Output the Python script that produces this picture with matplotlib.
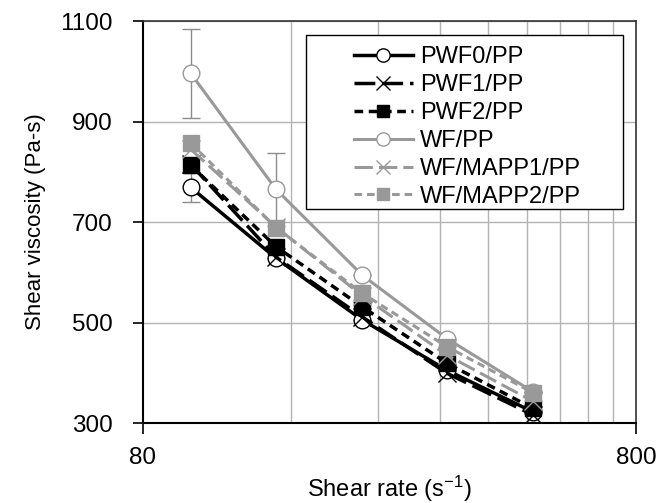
import matplotlib.pyplot as plt
from matplotlib.patches import Rectangle
from matplotlib.ticker import FixedLocator, NullFormatter

plt.rcParams.update({
    'font.family': 'Liberation Sans',
    'font.size': 16,
    'mathtext.default': 'regular',
})

# Data
shear_rate = [100, 149, 223, 331, 495]
pwf0 = [769, 628, 505, 405, 322]
pwf1 = [815, 630, 511, 399, 316]
pwf2 = [813, 651, 531, 419, 329]
wf = [996, 765, 594, 468, 362]
wf_mapp1 = [845, 690, 553, 435, 343]
wf_mapp2 = [857, 689, 558, 452, 360]

wf_err = [88, 73, 0, 0, 0]
pwf0_err = [29, 0, 0, 0, 0]

grid_x = [160, 240, 320, 400, 480, 560, 640, 720]

black = '#000000'
gray = '#999999'

fig = plt.figure(figsize=(6.68, 5.03), dpi=100)
ax = fig.add_axes([0.214, 0.159, 0.738, 0.799])

# error bars (thin gray with caps)
ax.errorbar(shear_rate, wf, yerr=wf_err, fmt='none', ecolor='#8c8c8c',
            elinewidth=1, capsize=6.5, capthick=1, zorder=1)
ax.errorbar(shear_rate, pwf0, yerr=pwf0_err, fmt='none', ecolor='#8c8c8c',
            elinewidth=1, capsize=6.5, capthick=1, zorder=1)

ax.plot(shear_rate, pwf0, color=black, lw=2.5, ls='-', marker='o', ms=12,
        mfc='white', mec=black, mew=1.0, label='PWF0/PP', zorder=3)
ax.plot(shear_rate, pwf1, color=black, lw=2.5, ls=(0, (6, 2)), marker='x', ms=13,
        mec=black, mew=1.0, label='PWF1/PP', zorder=3)
ax.plot(shear_rate, pwf2, color=black, lw=2.5, ls=(0, (2.5, 1.6)), marker='s', ms=11.5,
        mfc=black, mec=black, label='PWF2/PP', zorder=3)
ax.plot(shear_rate, wf, color=gray, lw=2.2, ls='-', marker='o', ms=12,
        mfc='white', mec=gray, mew=1.0, label='WF/PP', zorder=4)
ax.plot(shear_rate, wf_mapp1, color=gray, lw=2.2, ls=(0, (6, 2)), marker='x', ms=13,
        mec=gray, mew=1.0, label='WF/MAPP1/PP', zorder=4)
ax.plot(shear_rate, wf_mapp2, color=gray, lw=2.2, ls=(0, (2.5, 1.6)), marker='s', ms=11.5,
        mfc=gray, mec=gray, label='WF/MAPP2/PP', zorder=4)

ax.set_xscale('log')
ax.set_xlim(80, 800)
ax.set_ylim(300, 1100)
ax.xaxis.set_major_locator(FixedLocator([80, 800]))
ax.set_xticklabels(['80', '800'])
ax.xaxis.set_minor_locator(FixedLocator(grid_x))
ax.xaxis.set_minor_formatter(NullFormatter())
ax.set_yticks([300, 500, 700, 900, 1100])

ax.grid(True, which='minor', axis='x', color='#b3b3b3', lw=1)
ax.grid(True, which='major', axis='y', color='#b3b3b3', lw=1)
ax.set_axisbelow(True)

ax.tick_params(axis='x', which='major', direction='out', length=8, width=1.2, pad=9,
               labelsize=17.5)
ax.tick_params(axis='x', which='minor', length=0)
ax.tick_params(axis='y', direction='out', length=7, width=1.2, pad=15, labelsize=17.5)

for side in ['left', 'bottom']:
    ax.spines[side].set_linewidth(1.5)
    ax.spines[side].set_color('black')
for side in ['top', 'right']:
    ax.spines[side].set_linewidth(1.2)
    ax.spines[side].set_color('#333333')

ax.set_xlabel('Shear rate (s$^{-1}$)', fontsize=17, labelpad=4)
ax.set_ylabel('Shear viscosity (Pa-s)', fontsize=16, labelpad=10)

# legend box drawn separately so padding can differ horizontally/vertically
ax.add_patch(Rectangle((0.331, 0.532), 0.643, 0.433, transform=ax.transAxes,
                       facecolor='white', edgecolor='black', lw=1.0, zorder=5))
leg = ax.legend(loc='upper left', bbox_to_anchor=(0.404, 0.967), frameon=False,
                numpoints=1, handlelength=2.5, handletextpad=0.3, labelspacing=0.25,
                borderpad=0.0, fontsize=17, markerscale=0.8)
leg.set_zorder(6)

fig.savefig('out.png', dpi=100)
